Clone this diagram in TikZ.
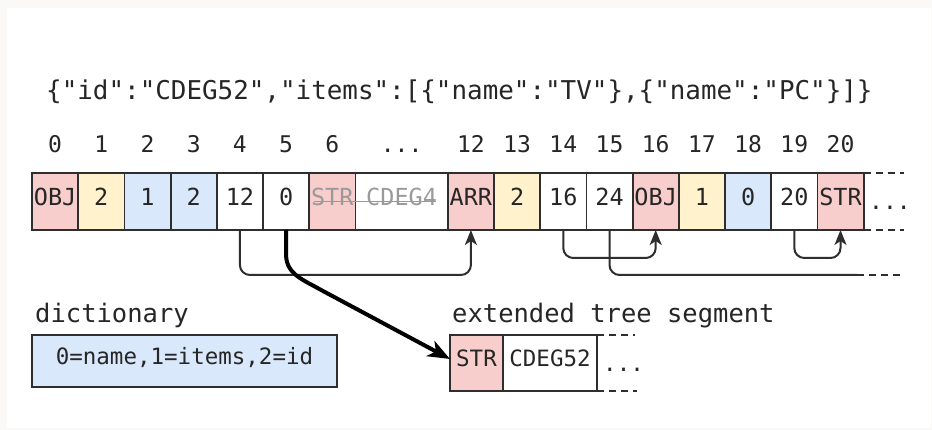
\documentclass[tikz,border=0pt]{standalone}
\usepackage{fontspec}
\usetikzlibrary{positioning, arrows.meta}
\newfontfamily\monofont{DejaVu Sans Mono}
\definecolor{R}{HTML}{F8CECC}
\definecolor{Y}{HTML}{FFF2CC}
\definecolor{B}{HTML}{DAE8FC}
\definecolor{L}{HTML}{2E2E2E}
\definecolor{S}{HTML}{9A9A9A}
\definecolor{P}{HTML}{FAF9F7}
\tikzstyle{cell} = [draw=L, line width=1.8pt,
minimum width=46.2pt, minimum height=57pt,
inner sep=0pt, outer sep=0pt, text=black!85,
text height=0.73em, text depth=0pt, % centre on the caps
font=\monofont\fontsize{23.5}{28}\selectfont]
\tikzstyle{wide} = [cell, minimum width=92.4pt]
\tikzstyle{seg} = [cell, minimum width=53pt, minimum height=56pt,
font=\monofont\fontsize{22.5}{27}\selectfont]
\tikzstyle{idx} = [anchor=base, inner sep=0pt, text=black!85,
font=\monofont\fontsize{23}{28}\selectfont]
\tikzstyle{title} = [anchor=base west, inner sep=0pt, text=black!85,
font=\monofont\fontsize{25.5}{30}\selectfont]
\tikzstyle{link} = [-{Stealth[length=15pt, width=12pt, inset=4pt]}, draw=L,
line width=2pt, rounded corners=10pt]
\tikzstyle{jump} = [-{Stealth[length=22pt, width=17pt, inset=6pt]}, line width=4pt]
\tikzstyle{cont} = [draw=L, line width=1.8pt, dash pattern=on 7pt off 5pt]

\begin{document}
\begin{tikzpicture}[x=1pt, y=1pt]
  \fill[P] (0,0) rectangle (932,430);
  \fill[white] (7,2) rectangle (931,422);
  \useasboundingbox (0,0) rectangle (932,430);

  \node[title, font=\monofont\fontsize{25.9}{30}\selectfont] (json) at (46,330)
    {\{"id":"CDEG52","items":[\{"name":"TV"\},\{"name":"PC"\}]\}};

  % the tree segment
  \node[cell, fill=R, anchor=south west] (c0) at (32,200) {OBJ};
  \node[cell, fill=Y, right=0pt of c0]   (c1)  {2};
  \node[cell, fill=B, right=0pt of c1]   (c2)  {1};
  \node[cell, fill=B, right=0pt of c2]   (c3)  {2};
  \node[cell, right=0pt of c3]           (c4)  {12};
  \node[cell, right=0pt of c4]           (c5)  {0};
  \node[cell, fill=R, text=S, right=0pt of c5] (c6) {STR};
  \node[wide, text=S, right=0pt of c6]   (c7)  {CDEG4};
  \node[cell, fill=R, right=0pt of c7]   (c12) {ARR};
  \node[cell, fill=Y, right=0pt of c12]  (c13) {2};
  \node[cell, right=0pt of c13]          (c14) {16};
  \node[cell, right=0pt of c14]          (c15) {24};
  \node[cell, fill=R, right=0pt of c15]  (c16) {OBJ};
  \node[cell, fill=Y, right=0pt of c16]  (c17) {1};
  \node[cell, fill=B, right=0pt of c17]  (c18) {0};
  \node[cell, right=0pt of c18]          (c19) {20};
  \node[cell, fill=R, right=0pt of c19]  (c20) {STR};
  \draw[S, line width=1.5pt] ([xshift=-18pt]c6.center) -- ([xshift=34pt]c7.center);

  \draw[cont] (c20.north east) -- ++(40,0);
  \draw[cont] (c20.south east) -- ++(40,0);
  \node[idx, anchor=base west] (more) at (869,220) {...};

  % offsets
  \coordinate (idxline) at (0,277);
  \foreach \c/\t in {c0/0, c1/1, c2/2, c3/3, c4/4, c5/5, c6/6, c12/12, c13/13,
                     c14/14, c15/15, c16/16, c17/17, c18/18, c19/19, c20/20}
    \node[idx] (i-\c) at (\c |- idxline) {\t};
  \node[idx] (i-c7) at (c7 |- idxline) {...};

  \draw[link] (c4.south)  -- ++(0,-45) -| (c12.south);
  \draw[link] (c14.south) -- ++(0,-28) -| (c16.south);
  \draw[link] (c19.south) -- ++(0,-28) -| (c20.south);
  \coordinate (tail) at (857,155);
  \coordinate (tailend) at (905,155);
  \draw[draw=L, line width=2pt, rounded corners=10pt] (c15.south) |- (tail);
  \draw[cont] (tail) -- (tailend);

  % dictionary
  \node[title] (dictlabel) at (35,107) {dictionary};
  \node[seg, fill=B, anchor=north west, minimum width=305pt, minimum height=52pt,
        text height=0.76em] (dict) at (32,95) {0=name,1=items,2=id};

  % extended tree segment
  \node[title] (seglabel) at (452,107) {extended tree segment};
  \node[seg, fill=R, anchor=north west] (e0) at (450,95) {STR};
  \node[seg, minimum width=94pt, right=0pt of e0] (e1) {CDEG52};
  \draw[cont] (e1.north east) -- ++(38,0);
  \draw[cont] (e1.south east) -- ++(40,0);
  \node[idx, anchor=base west, font=\monofont\fontsize{22.5}{27}\selectfont]
    (segmore) at (603,58) {...};

  \draw[jump] (c5.south) -- ++(0,-25) to[out=-90, in=150] ++(35,-35) -- ([yshift=4pt]e0.west);
\end{tikzpicture}
\end{document}
